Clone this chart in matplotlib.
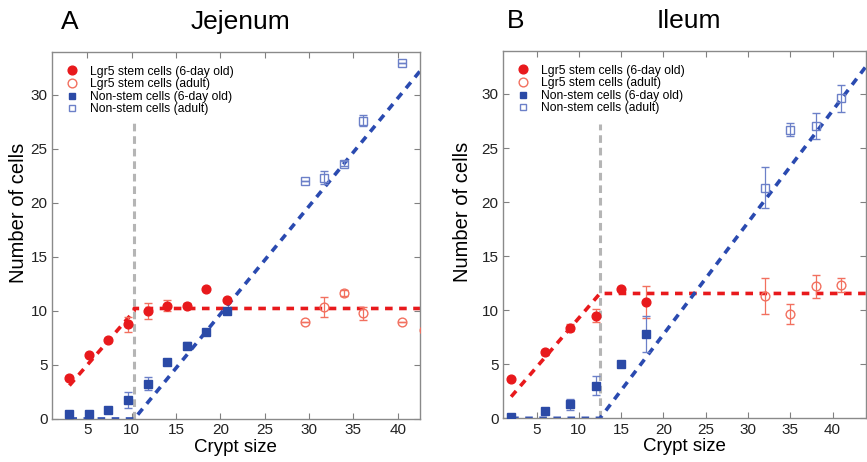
import matplotlib
matplotlib.use('Agg')
import matplotlib.pyplot as plt
from matplotlib.lines import Line2D

plt.rcParams['font.family'] = ['Liberation Sans', 'DejaVu Sans']

# ---- Jejenum data ----
jej_stem6_x = [2.9, 5.2, 7.3, 9.6, 11.8, 14.0, 16.2, 18.4, 20.7]
jej_stem6_y = [3.8, 5.9, 7.3, 8.75, 10.0, 10.5, 10.5, 12.0, 11.0]
jej_stem6_e = [0.2, 0.1, 0.2, 0.7, 0.7, 0.5, 0.2, 0.1, 0.1]
jej_stemA_x = [29.5, 31.7, 33.9, 36.1, 40.5, 43.0]
jej_stemA_y = [9.0, 10.35, 11.65, 9.8, 9.0, 8.2]
jej_stemA_e = [0.0, 0.9, 0.3, 0.6, 0.0, 0.0]
jej_non6_x = [2.9, 5.2, 7.3, 9.6, 11.8, 14.0, 16.2, 18.4, 20.7]
jej_non6_y = [0.5, 0.45, 0.85, 1.75, 3.25, 5.25, 6.8, 8.05, 10.0]
jej_non6_e = [0.1, 0.1, 0.1, 0.75, 0.6, 0.1, 0.3, 0.1, 0.1]
jej_nonA_x = [29.5, 31.7, 33.9, 36.1, 40.5]
jej_nonA_y = [22.0, 22.35, 23.65, 27.6, 33.0]
jej_nonA_e = [0.0, 0.6, 0.2, 0.5, 0.0]
jej_fit_red_x = [3.0, 10.3, 10.3, 42.5]
jej_fit_red_y = [3.1, 10.0, 10.23, 10.23]
jej_fit_blue_x = [3.0, 10.3, 42.5]
jej_fit_blue_y = [0.0, 0.0, 32.2]
jej_split = 10.3
jej_split_top = 27.4

# ---- Ileum data ----
ile_stem6_x = [2, 6, 9, 12, 15, 18]
ile_stem6_y = [3.6, 6.1, 8.4, 9.5, 12.0, 10.75]
ile_stem6_e = [0.1, 0.2, 0.3, 0.6, 0.1, 1.5]
ile_stemA_x = [32, 35, 38, 41]
ile_stemA_y = [11.35, 9.65, 12.2, 12.3]
ile_stemA_e = [1.67, 0.9, 1.05, 0.65]
ile_non6_x = [2, 6, 9, 12, 15, 18]
ile_non6_y = [0.15, 0.7, 1.3, 3.0, 5.0, 7.8]
ile_non6_e = [0.0, 0.1, 0.5, 0.87, 0.1, 1.7]
ile_nonA_x = [32, 35, 38, 41]
ile_nonA_y = [21.35, 26.7, 27.0, 29.6]
ile_nonA_e = [1.85, 0.6, 1.2, 1.25]
ile_fit_red_x = [2.0, 12.5, 12.5, 44.0]
ile_fit_red_y = [2.0, 11.55, 11.55, 11.55]
ile_fit_blue_x = [2.0, 12.5, 44.0]
ile_fit_blue_y = [0.0, 0.0, 32.6]
ile_split = 12.5
ile_split_top = 27.25

labels = ['Lgr5 stem cells (6-day old)', 'Lgr5 stem cells (adult)',
          'Non-stem cells (6-day old)', 'Non-stem cells (adult)']

RED = '#e8191c'
RED_L = '#f2705f'
BLUE = '#2b4aa6'
BLUE_L = '#6c80c8'
FIT_BLUE = '#2a4ab0'

fig = plt.figure(figsize=(8.67, 4.62), dpi=100)
ax1 = fig.add_axes([0.0596, 0.0931, 0.4248, 0.795])
ax2 = fig.add_axes([0.5798, 0.0945, 0.4195, 0.7957])


def draw(ax, d, xlim, letter, title, letter_x, ylab_x):
    (s6x, s6y, s6e, sax, say, sae, n6x, n6y, n6e, nax, nay, nae,
     frx, fry, fbx, fby, split, split_top) = d
    dash = dict(lw=2.6, dashes=(2.1, 1.8))
    ax.plot([split, split], [0, split_top], color='#b5b5b5', lw=2.2,
            dashes=(2.5, 1.6), zorder=1)
    ax.plot(frx, fry, color=RED, zorder=2, **dash)
    ax.plot(fbx, fby, color=FIT_BLUE, zorder=2, **dash)

    ax.errorbar(s6x, s6y, yerr=s6e, fmt='o', ms=6.3, color=RED, mfc=RED,
                mec=RED, ecolor=RED_L, elinewidth=0.9, capsize=3, zorder=3)
    ax.errorbar(sax, say, yerr=sae, fmt='o', ms=6.3, mfc='none', mec=RED_L,
                mew=1.0, ecolor=RED_L, elinewidth=0.9, capsize=3, zorder=3)
    ax.errorbar(n6x, n6y, yerr=n6e, fmt='s', ms=5.2, color=BLUE, mfc=BLUE,
                mec=BLUE, ecolor=BLUE_L, elinewidth=0.9, capsize=3, zorder=3)
    ax.errorbar(nax, nay, yerr=nae, fmt='s', ms=5.2, mfc='none', mec=BLUE_L,
                mew=1.0, ecolor=BLUE_L, elinewidth=0.9, capsize=3, zorder=3)

    ax.set_xlim(*xlim)
    ax.set_ylim(0, 34)
    ax.set_xticks([5, 10, 15, 20, 25, 30, 35, 40])
    ax.set_yticks([0, 5, 10, 15, 20, 25, 30])
    ax.tick_params(direction='in', length=4, color='#808080', labelsize=11,
                   top=True, right=True, labelcolor='#222222', pad=3)
    for sp in ax.spines.values():
        sp.set_color('#8a8a8a')
        sp.set_linewidth(1.0)
    ax.set_xlabel('Crypt size', fontsize=13.5, labelpad=1)
    ax.set_ylabel('Number of cells', fontsize=14.5)
    ax.yaxis.set_label_coords(ylab_x, 0.562)

    handles = [
        Line2D([], [], ls='none', marker='o', ms=6.3, color=RED),
        Line2D([], [], ls='none', marker='o', ms=6.3, mfc='none',
               mec=RED_L, mew=1.0),
        Line2D([], [], ls='none', marker='s', ms=4.5, color=BLUE),
        Line2D([], [], ls='none', marker='s', ms=4.5, mfc='none',
               mec=BLUE_L, mew=1.0),
    ]
    ax.legend(handles, labels, loc='upper left', frameon=False, fontsize=8.7,
              handletextpad=1.0, labelspacing=0.05, borderaxespad=0.75,
              handlelength=1.0)

    ax.text(letter_x, 1.08, letter, transform=ax.transAxes,
            fontsize=19, ha='left', va='center')
    ax.text(0.513, 1.08, title, transform=ax.transAxes,
            fontsize=19, ha='center', va='center')


draw(ax1, (jej_stem6_x, jej_stem6_y, jej_stem6_e, jej_stemA_x, jej_stemA_y,
           jej_stemA_e, jej_non6_x, jej_non6_y, jej_non6_e, jej_nonA_x,
           jej_nonA_y, jej_nonA_e, jej_fit_red_x, jej_fit_red_y,
           jej_fit_blue_x, jej_fit_blue_y, jej_split, jej_split_top),
     (1, 42.5), 'A', 'Jejenum', 0.025, -0.064)
draw(ax2, (ile_stem6_x, ile_stem6_y, ile_stem6_e, ile_stemA_x, ile_stemA_y,
           ile_stemA_e, ile_non6_x, ile_non6_y, ile_non6_e, ile_nonA_x,
           ile_nonA_y, ile_nonA_e, ile_fit_red_x, ile_fit_red_y,
           ile_fit_blue_x, ile_fit_blue_y, ile_split, ile_split_top),
     (1, 44), 'B', 'Ileum', 0.012, -0.085)

fig.savefig('out.png', dpi=100)
